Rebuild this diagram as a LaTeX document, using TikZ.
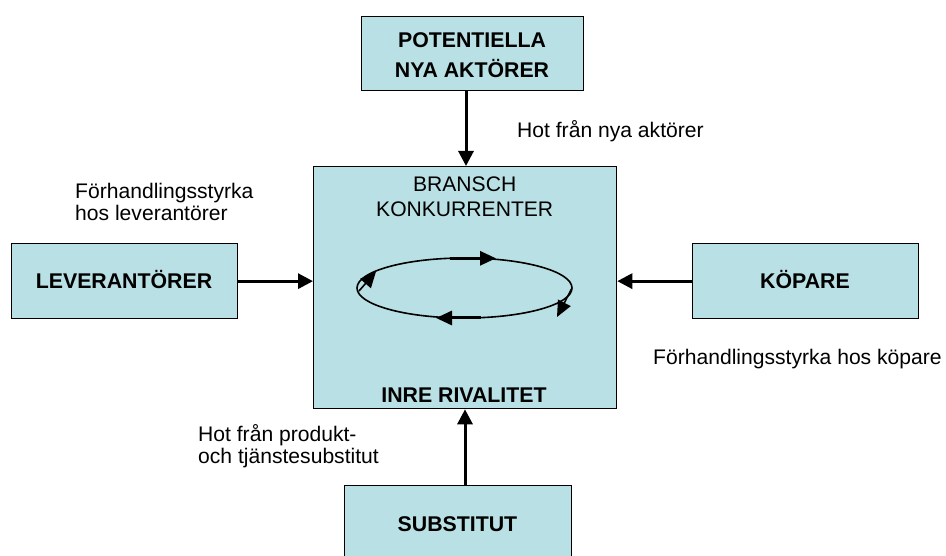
\documentclass[tikz,border=0pt]{standalone}
\usepackage{fontspec}
\setmainfont{Liberation Sans}
\usetikzlibrary{arrows.meta}
\definecolor{boxfill}{RGB}{185,224,228}
\tikzset{
  box/.style={draw=black, line width=1.3pt, fill=boxfill, inner sep=0pt},
  lbl/.style={inner sep=0pt, font=\fontsize{21.1}{22}\selectfont},
  blbl/.style={inner sep=0pt, font=\fontsize{21.3}{22}\selectfont\bfseries},
  force/.style={line width=3pt, -{Triangle[length=15pt,width=15pt]}},
  cyc/.style={line width=1.6pt},
  cyctip/.style={-{Triangle[length=16pt,width=14pt]}}
}
\begin{document}
\begin{tikzpicture}[x=1pt,y=-1pt]
\useasboundingbox (0,0) rectangle (946,556);
% boxes
\node[box, minimum width=222pt, minimum height=74pt, anchor=north west] (top) at (361,16) {};
\node[box, minimum width=303pt, minimum height=242pt, anchor=north west] (mid) at (313,166) {};
\node[box, minimum width=226pt, minimum height=75pt, anchor=north west] (lev) at (11,243) {};
\node[box, minimum width=226pt, minimum height=75pt, anchor=north west] (kop) at (692,243) {};
\node[box, minimum width=227pt, minimum height=90pt, anchor=north west] (sub) at (344,485) {};
% box texts
\node[blbl, anchor=base] (toptxt) at (472,47.7) {\begin{tabular}[t]{@{}c@{}}POTENTIELLA\\[5pt]NYA AKTÖRER\end{tabular}};
\node[lbl, anchor=base] (midtxt) at (464.7,191.7) {\begin{tabular}[t]{@{}c@{}}BRANSCH\\[3pt]KONKURRENTER\end{tabular}};
\node[blbl, anchor=base] (rivtxt) at (464,402) {INRE RIVALITET};
\node[blbl, anchor=base] (levtxt) at (124,289) {LEVERANTÖRER};
\node[blbl, anchor=base] (koptxt) at (805,289) {KÖPARE};
\node[blbl, anchor=base] (subtxt) at (457.5,531) {SUBSTITUT};
% outside labels
\node[lbl, anchor=base west] (levlab) at (75,198.5) {\begin{tabular}[t]{@{}l@{}}Förhandlingsstyrka\\hos leverantörer\end{tabular}};
\node[lbl, anchor=base west] (nyalab) at (517,137.3) {Hot från nya aktörer};
\node[lbl, anchor=base west] (koplab) at (653,364.5) {Förhandlingsstyrka hos köpare};
\node[lbl, anchor=base west] (sublab) at (198,441) {\begin{tabular}[t]{@{}l@{}}Hot från produkt-\\och tjänstesubstitut\end{tabular}};
% force arrows
\draw[force] (top.south -| 466,0) -- (mid.north -| 466,0);
\draw[force] (lev.east) -- (lev.east -| mid.west);
\draw[force] (kop.west) -- (kop.west -| mid.east);
\draw[force] (sub.north -| 465,0) -- (mid.south -| 465,0);
% rivalry cycle
\coordinate (cyc) at (464.5,288);
\draw[cyc] (cyc) ellipse [x radius=107.5, y radius=30];
\coordinate (ta) at (450,258.3);
\coordinate (tb) at (496,258.3);
\draw[line width=3pt, cyctip] (ta) -- (tb);
\coordinate (ba) at (481,318);
\coordinate (bb) at (436,318);
\draw[line width=3pt, cyctip] (ba) -- (bb);
\coordinate (la) at (359,291);
\coordinate (lb) at (376,271.5);
\draw[cyc, cyctip] (la) -- (lb);
\coordinate (ra) at (571.5,289);
\coordinate (rb) at (557,317);
\draw[cyc, cyctip] (ra) -- (rb);
\end{tikzpicture}
\end{document}
